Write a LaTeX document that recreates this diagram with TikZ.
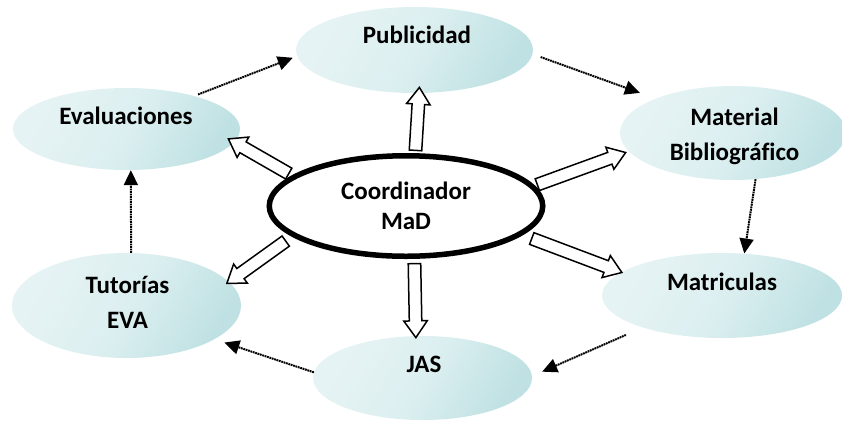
\documentclass[tikz,border=0pt]{standalone}
\usepackage{fontspec}
\setmainfont{Carlito}[Ligatures=NoCommon]
\usetikzlibrary{shapes.geometric,shapes.arrows,calc,arrows.meta}
\pgfdeclarelayer{front}
\pgfsetlayers{main,front}
\definecolor{bubbleLight}{HTML}{E6F3F4}
\definecolor{bubbleMid}{HTML}{DCEFF0}
\definecolor{bubbleDark}{HTML}{BFE1E3}

\tikzset{
  bubble/.style={ellipse, inner sep=0pt, top color=bubbleLight,
    bottom color=bubbleDark, middle color=bubbleMid, shading angle=60},
  lbl/.style={font=\fontsize{25}{35}\selectfont\bfseries, align=center,
    anchor=base, inner sep=0pt},
  core/.style={ellipse, draw=black, line width=5.5pt, fill=white, inner sep=0pt,
    align=center, font=\fontsize{25}{30}\selectfont\bfseries},
  flow/.style={line width=2pt, dash pattern=on 1.8pt off 0.7pt,
    -{Triangle[length=15pt,width=14pt]}},
  blockarr/.style={single arrow, draw=black, fill=white, line width=1.5pt,
    inner xsep=0pt, inner ysep=5.5pt, single arrow head extend=5.5pt,
    single arrow tip angle=70, single arrow head indent=0pt},
}

% hollow block arrow: name, from, to, start offset, extra length at the tip
\newcommand\blockarrow[5]{%
  \path let \p1=(#2), \p2=(#3),
    \n1={atan2(\y2-\y1,\x2-\x1)},
    \n2={veclen(\x2-\x1,\y2-\y1)-(#4)+(#5)} in
    node[blockarr, anchor=tail, rotate=\n1, minimum height=\n2]
      (#1) at ($(\p1)!#4pt!(\p2)$) {};}

\begin{document}
\begin{tikzpicture}[x=1pt,y=-1pt]
\useasboundingbox (0,0) rectangle (842,421);

% surrounding topics
\node[bubble, minimum width=237pt, minimum height=86pt]  (P) at (414.5,50) {};
\node[bubble, minimum width=227pt, minimum height=82pt]  (E) at (126.5,129) {};
\node[bubble, minimum width=226pt, minimum height=94pt]  (M) at (733,133) {};
\node[bubble, minimum width=240pt, minimum height=85pt]  (R) at (722,295.5) {};
\node[bubble, minimum width=219pt, minimum height=84pt]  (J) at (422.5,378) {};
\node[bubble, minimum width=229pt, minimum height=105pt] (T) at (126.5,305.5) {};

% labels, placed on the baseline of their last line
\node[lbl] (Pl) at (417,43) {Publicidad};
\node[lbl] (El) at (126,124) {Evaluaciones};
\node[lbl] (Ml) at (734.5,160) {Material\\Bibliográfico};
\node[lbl] (Rl) at (722,290) {Matriculas};
\node[lbl] (Jl) at (424,372.5) {JAS};
\node[lbl] (Tl) at (127.5,328) {Tutorías\\EVA};

% central coordinator, kept above the block arrows
\begin{pgfonlayer}{front}
\node[core, minimum width=273.5pt, minimum height=100.5pt] (C) at (406,206)
  {Coordinador\\MaD};
\end{pgfonlayer}

% block arrows from the coordinator
\blockarrow{a1}{C.80}{P.-84}{2}{5}
\blockarrow{a2}{C.165}{E.-7.5}{3}{6}
\blockarrow{a3}{C.9}{M.190}{2}{-4}
\blockarrow{a4}{C.-14}{R.167}{9}{0}
\blockarrow{a5}{C.-81}{J.99}{4}{1}
\blockarrow{a6}{C.195}{T.13}{7}{2}

% cycle of dotted arrows
\draw[flow, shorten <=4pt, shorten >=4.5pt] (E.26) -- (P.183);
\draw[flow, shorten <=8.5pt, shorten >=16.7pt] (P.-2) -- (M.156);
\draw[flow] (M.-64.5) -- (R.62);
\draw[flow, shorten <=18.3pt, shorten >=11pt] (R.202.4) -- (J.1);
\draw[flow, shorten >=10.3pt] (J.177) -- (T.-21.6);
\draw[flow] (T.85) -- (E.-84);
\end{tikzpicture}
\end{document}
